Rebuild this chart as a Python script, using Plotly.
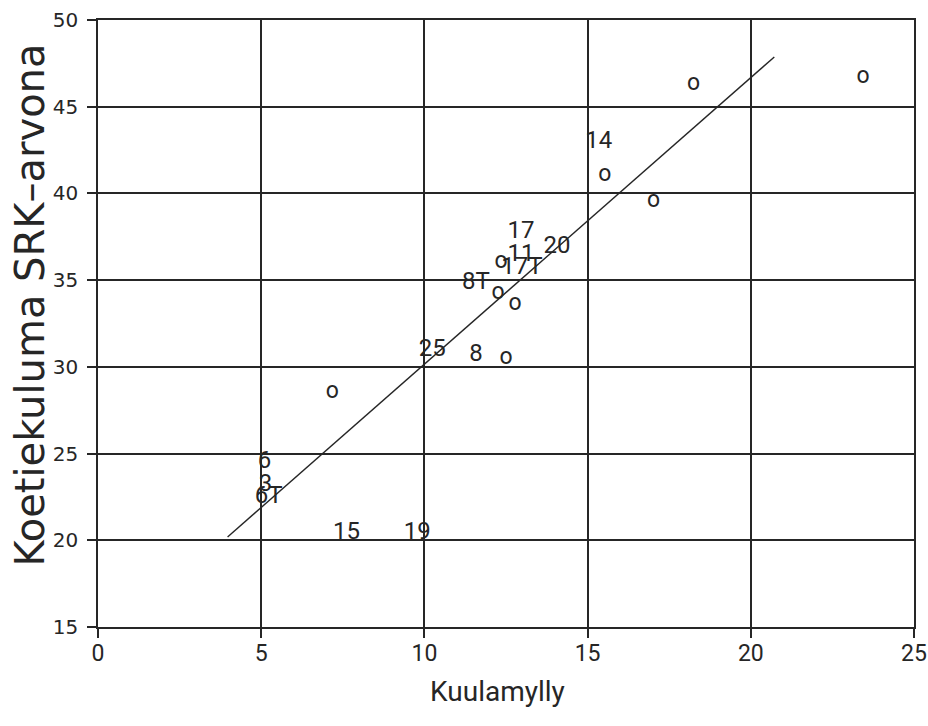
import plotly.graph_objects as go

# Unlabelled observations (drawn as small "o" glyphs)
point_x = [23.44, 18.25, 15.53, 17.02, 12.35, 12.26, 12.78, 12.50, 7.18]
point_y = [46.71, 46.31, 41.06, 39.56, 36.05, 34.26, 33.62, 30.51, 28.55]

# Numbered observations (the number itself marks the point)
label_text = ["14", "17", "11", "17T", "20", "8T", "25", "8", "15", "19", "6", "3", "6T"]
label_x = [15.34, 12.96, 12.96, 12.99, 14.06, 11.58, 10.24, 11.58, 7.61, 9.78, 5.10, 5.13, 5.23]
label_y = [42.97, 37.78, 36.45, 35.70, 36.91, 34.84, 30.97, 30.68, 20.42, 20.42, 24.51, 23.19, 22.50]

# Fitted regression line end points
fit_x = [3.97, 20.72]
fit_y = [20.19, 47.87]

x_ticks = [0, 5, 10, 15, 20, 25]
y_ticks = [15, 20, 25, 30, 35, 40, 45, 50]

narrow = "Roboto, Liberation Sans, sans-serif"
wide = "DejaVu Sans, Verdana, sans-serif"
ink = "#262626"

fig = go.Figure()

fig.add_trace(go.Scatter(
    x=fit_x, y=fit_y, mode="lines",
    line=dict(color=ink, width=1.4),
    hoverinfo="skip", showlegend=False,
))

fig.add_trace(go.Scatter(
    x=point_x, y=point_y, mode="text",
    text=["o"] * len(point_x), textposition="middle center",
    textfont=dict(family=narrow, size=23, color=ink),
    showlegend=False,
))

fig.add_trace(go.Scatter(
    x=label_x, y=label_y, mode="text",
    text=label_text, textposition="middle center",
    textfont=dict(family=narrow, size=24, color=ink),
    showlegend=False,
))

axis_common = dict(
    showgrid=True, gridcolor=ink, gridwidth=1.5,
    showline=True, linecolor=ink, linewidth=1.5, mirror=True,
    ticks="outside", ticklen=9, tickcolor=ink, tickwidth=1.5,
    zeroline=False, ticklabeloverflow="allow", automargin=False,
)

fig.update_layout(
    width=928, height=726,
    margin=dict(l=98, r=14, t=20, b=99),
    paper_bgcolor="white", plot_bgcolor="white",
    xaxis=dict(range=[0, 25], tickvals=x_ticks, ticklabelstandoff=-4,
               tickfont=dict(family=narrow, size=23, color=ink), **axis_common),
    yaxis=dict(range=[15, 50], tickvals=y_ticks, ticklabelstandoff=5,
               tickfont=dict(family=wide, size=20, color=ink), **axis_common),
    annotations=[
        dict(text="Kuulamylly", xref="paper", yref="paper",
             x=0.49, y=-0.107, xanchor="center", yanchor="middle",
             showarrow=False, font=dict(family=narrow, size=28, color=ink)),
        dict(text="Koetiekuluma SRK–arvona", xref="paper", yref="paper",
             x=-0.083, y=0.53, xanchor="center", yanchor="middle",
             textangle=-90, showarrow=False,
             font=dict(family=wide, size=40, color=ink)),
    ],
)

fig.write_html("out.html")
